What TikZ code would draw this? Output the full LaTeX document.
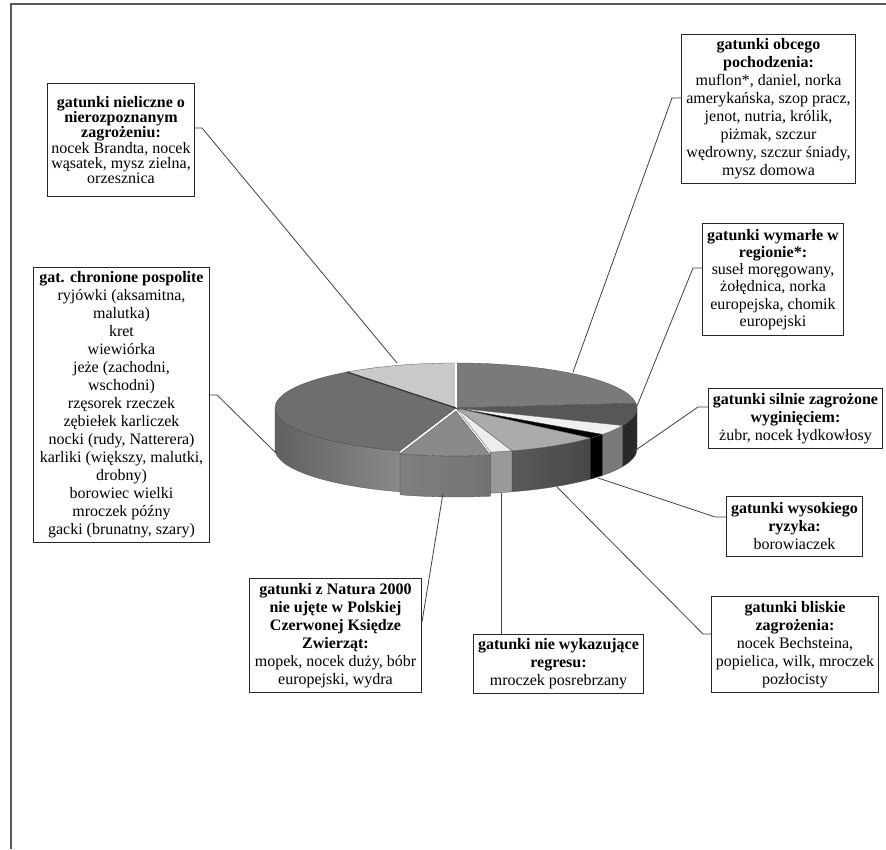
\documentclass[tikz,border=0pt]{standalone}
\usepackage{fontspec}
\setmainfont{Liberation Serif}
\usepackage{tikz}
\usetikzlibrary{calc}
\tikzstyle{lbl_box} = [rectangle, draw=black!85, line width=1pt, fill=white, align=center, inner sep=2pt, anchor=north west, font=\fontsize{16}{18}\selectfont]
\tikzstyle{lbl_line} = [draw=black!75, line width=0.8pt]
\tikzstyle{pie_edge} = [draw=black!70, line width=0.3pt]
% #1 centre, #2 start angle, #3 end angle, #4 fill
\newcommand{\pietop}[4]{\filldraw[pie_edge, fill=#4] (#1) -- ++(#2:181pt and 45pt) arc[start angle=#2, end angle=#3, x radius=181pt, y radius=45pt] -- cycle;}
% #1 centre, #2 start angle, #3 end angle, #4 left colour, #5 right colour
\newcommand{\piewall}[5]{\shadedraw[pie_edge, left color=#4, right color=#5] ($(#1)+(#2:181pt and 45pt)$) arc[start angle=#2, end angle=#3, x radius=181pt, y radius=45pt] -- ++(0,-41) arc[start angle=#3, end angle=#2, x radius=181pt, y radius=45pt] -- cycle;}
\begin{document}
\begin{tikzpicture}[x=1pt,y=1pt]
\useasboundingbox (0,0) rectangle (886,849);
\draw[black!65, line width=2pt] (886,845) -- (10.5,845) -- (10.5,0);

\coordinate (ctr) at (456,441);
\coordinate (ctr_nat) at (456,438);

% side walls
\piewall{ctr}{0}{-23}{black!84}{black!84}
\piewall{ctr}{-23}{-36}{black!52}{black!52}
\piewall{ctr}{-36}{-42}{black}{black}
\piewall{ctr}{-42}{-72}{black!65}{black!72}
\piewall{ctr}{-72}{-79}{black!40}{black!40}
\piewall{ctr_nat}{-79}{-108}{black!50}{black!55}
\piewall{ctr}{-108}{-180}{black!62}{black!46}

% top faces
\pietop{ctr}{90}{6}{black!52}
\pietop{ctr}{6}{-23}{black!66}
\pietop{ctr}{-23}{-36}{black!6}
\pietop{ctr}{-36}{-42}{black}
\pietop{ctr}{-42}{-72}{black!33}
\pietop{ctr}{-72}{-79}{black!7}
\pietop{ctr_nat}{-79}{-108}{black!46}
\pietop{ctr}{-108}{-233}{black!57}
\pietop{ctr}{127}{90}{black!21}
\draw[white, line width=2.5pt] (ctr) -- ++(90:181pt and 45pt);
\draw[black!80, line width=1.2pt] (ctr) -- ++(127:181pt and 45pt);

% labels
\node[lbl_box, minimum width=147pt, minimum height=113pt, font=\fontsize{16}{15.3}\selectfont] (nieliczne) at (47,766)
  {\textbf{gatunki nieliczne o}\\ \textbf{nierozpoznanym}\\ \textbf{zagrożeniu:}\\ nocek Brandta, nocek\\ wąsatek, mysz zielna,\\ orzesznica};
\node[lbl_box, minimum width=176pt, minimum height=275pt] (chronione) at (33,582)
  {\textbf{gat. chronione pospolite}\\ ryjówki (aksamitna,\\ malutka)\\ kret\\ wiewiórka\\ jeże (zachodni,\\ wschodni)\\ rzęsorek rzeczek\\ zębiełek karliczek\\ nocki (rudy, Natterera)\\ karliki (większy, malutki,\\ drobny)\\ borowiec wielki\\ mroczek późny\\ gacki (brunatny, szary)};
\node[lbl_box, minimum width=174pt, minimum height=149pt] (obcego) at (681,815)
  {\textbf{gatunki obcego}\\ \textbf{pochodzenia:}\\ muflon*, daniel, norka\\ amerykańska, szop pracz,\\ jenot, nutria, królik,\\ piżmak, szczur\\ wędrowny, szczur śniady,\\ mysz domowa};
\node[lbl_box, minimum width=141pt, minimum height=112pt, font=\fontsize{16}{17.3}\selectfont] (wymarle) at (702,626)
  {\textbf{gatunki wymarłe w}\\ \textbf{regionie*:}\\ suseł moręgowany,\\ żołędnica, norka\\ europejska, chomik\\ europejski};
\node[lbl_box, minimum width=174pt, minimum height=60pt] (silnie) at (708,461)
  {\textbf{gatunki silnie zagrożone}\\ \textbf{wyginięciem:}\\ żubr, nocek łydkowłosy};
\node[lbl_box, minimum width=136pt, minimum height=60pt] (wysokie) at (726,353)
  {\textbf{gatunki wysokiego}\\ \textbf{ryzyka:}\\ borowiaczek};
\node[lbl_box, minimum width=167pt, minimum height=96pt] (bliskie) at (711,253)
  {\textbf{gatunki bliskie}\\ \textbf{zagrożenia:}\\ nocek Bechsteina,\\ popielica, wilk, mroczek\\ pozłocisty};
\node[lbl_box, minimum width=170pt, minimum height=59pt] (regres) at (473,215)
  {\textbf{gatunki nie wykazujące}\\ \textbf{regresu:}\\ mroczek posrebrzany};
\node[lbl_box, minimum width=172pt, minimum height=114pt] (natura) at (249,271)
  {\textbf{gatunki z Natura 2000}\\ \textbf{nie ujęte w Polskiej}\\ \textbf{Czerwonej Księdze}\\ \textbf{Zwierząt:}\\ mopek, nocek duży, bóbr\\ europejski, wydra};

% connectors
\coordinate (c_nie) at (202,721);
\coordinate (p_nie) at (397,486);
\coordinate (c_chr) at (217,454);
\coordinate (p_chr) at (276,396);
\coordinate (c_obc) at (672,751);
\coordinate (p_obc) at (573,477);
\coordinate (c_wym) at (693,581);
\coordinate (p_wym) at (637,443);
\coordinate (c_sil) at (698,442);
\coordinate (p_sil) at (633,397);
\coordinate (c_wys) at (715,332);
\coordinate (p_wys) at (598,371);
\coordinate (c_bli) at (703,215);
\coordinate (p_bli) at (557,362);
\coordinate (p_reg) at (501,356);
\coordinate (c_nat) at (421,227);
\coordinate (p_nat) at (443,356);
\draw[lbl_line] (c_nie -| nieliczne.east) -- (c_nie) -- (p_nie);
\draw[lbl_line] (c_chr -| chronione.east) -- (c_chr) -- (p_chr);
\draw[lbl_line] (c_obc -| obcego.west) -- (c_obc) -- (p_obc);
\draw[lbl_line] (c_wym -| wymarle.west) -- (c_wym) -- (p_wym);
\draw[lbl_line] (c_sil -| silnie.west) -- (c_sil) -- (p_sil);
\draw[lbl_line] (c_wys -| wysokie.west) -- (c_wys) -- (p_wys);
\draw[lbl_line] (c_bli -| bliskie.west) -- (c_bli) -- (p_bli);
\draw[lbl_line] (p_reg |- regres.north) -- (p_reg);
\draw[lbl_line] (c_nat -| natura.east) -- (p_nat);
\end{tikzpicture}
\end{document}
